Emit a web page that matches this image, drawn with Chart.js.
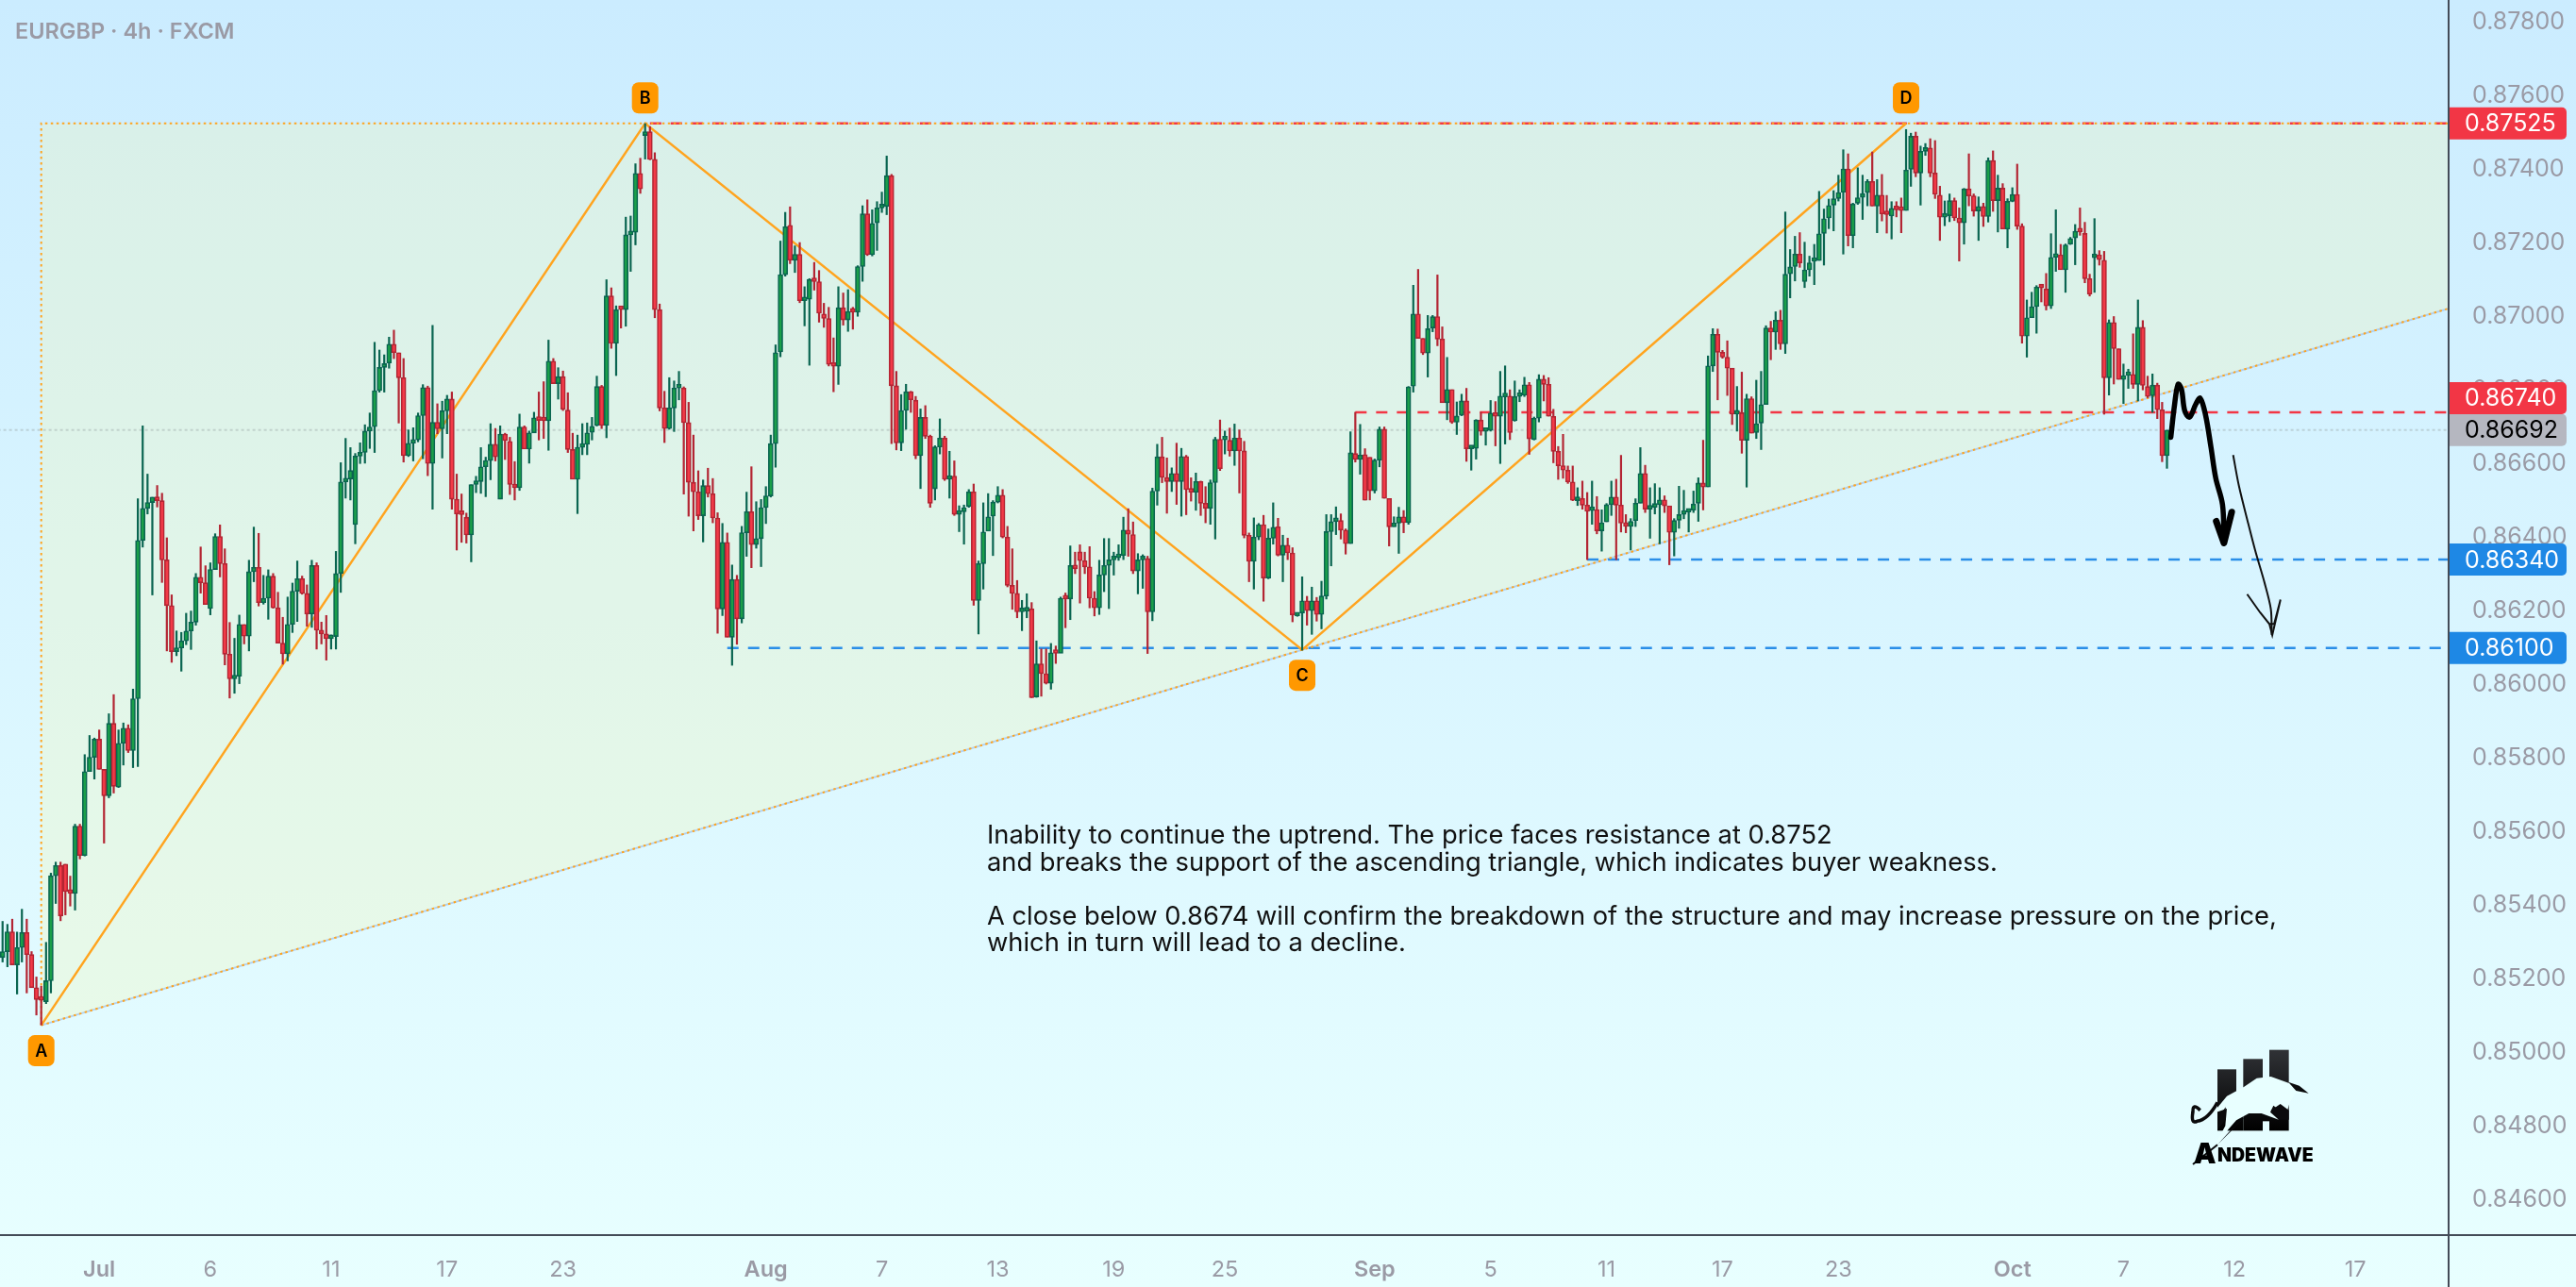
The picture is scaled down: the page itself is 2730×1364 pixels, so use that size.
<!DOCTYPE html>
<html>
<head>
<meta charset="utf-8">
<title>EURGBP 4h</title>
<script src="https://cdn.jsdelivr.net/npm/chart.js@4"></script>
<style>
html, body { margin: 0; padding: 0; }
body { width: 2730px; height: 1364px; overflow: hidden; background: linear-gradient(#cbecff, #e8ffff); }
canvas { display: block; }
</style>
</head>
<body>
<canvas id="pairChart" width="2730" height="1364"></canvas>
<script>
// candles, in 1e-5 price units, one entry per 4h bar
var opens = [
85259,85275,85329,85239,85286,85327,85267,85177,85145,85139,
85196,85481,85509,85513,85438,85433,85616,85536,85764,85803,
85852,85770,85698,85895,85722,85841,85882,85821,85962,86392,
86479,86495,86510,86500,86339,86215,86090,86100,86119,86146,
86170,86292,86277,86207,86313,86403,86329,86083,86016,86023,
86164,86132,86307,86319,86223,86235,86295,86209,86113,86084,
86164,86254,86288,86248,86192,86324,86148,86138,86125,86131,
86302,86551,86559,86435,86621,86631,86689,86701,86799,86862,
86874,86925,86902,86834,86622,86656,86665,86731,86807,86601,
86713,86695,86744,86776,86504,86464,86455,86407,86544,86552,
86592,86609,86653,86504,86681,86661,86544,86535,86700,86640,
86684,86722,86718,86717,86879,86818,86837,86746,86639,86558,
86645,86653,86686,86704,86810,86704,87056,86927,87021,87019,
87222,87229,87389,87492,87502,87427,87019,86752,86696,86752,
86806,86806,86712,86550,86524,86459,86541,86519,86453,86206,
86387,86129,86286,86179,86413,86470,86381,86397,86481,86513,
86655,86904,87114,87248,87153,87169,87043,87047,87101,87095,
87007,86995,86870,86865,87024,86991,87014,87012,87136,87279,
87168,87255,87295,87299,87383,86812,86657,86745,86796,86773,
86622,86726,86675,86532,86646,86670,86558,86567,86463,86470,
86484,86524,86229,86329,86417,86458,86496,86515,86401,86270,
86248,86198,86200,86206,85967,86057,86030,86004,86087,86085,
86235,86233,86324,86361,86337,86320,86235,86209,86298,86324,
86339,86345,86351,86420,86408,86309,86339,86343,86198,86526,
86619,86563,86552,86574,86552,86620,86530,86523,86552,86493,
86479,86549,86667,86665,86664,86635,86670,86635,86406,86335,
86401,86435,86290,86398,86429,86352,86379,86358,86187,86195,
86228,86201,86228,86191,86241,86416,86443,86446,86420,86383,
86628,86612,86625,86618,86527,86610,86694,86506,86429,86439,
86456,86440,86811,87007,86941,86901,86969,87000,86939,86766,
86802,86713,86732,86771,86641,86642,86719,86688,86691,86738,
86729,86782,86784,86717,86783,86786,86815,86666,86724,86830,
86816,86729,86634,86595,86583,86551,86500,86506,86488,86473,
86476,86418,86442,86489,86510,86488,86439,86430,86446,86493,
86574,86477,86482,86489,86502,86486,86414,86447,86463,86469,
86474,86493,86548,86537,86866,86952,86903,86890,86860,86735,
86739,86664,86777,86685,86711,86761,86969,86958,86990,86926,
87116,87136,87170,87095,87127,87150,87152,87226,87268,87303,
87321,87338,87401,87220,87308,87324,87337,87367,87300,87330,
87279,87273,87292,87290,87288,87400,87490,87390,87449,87458,
87390,87330,87270,87274,87315,87268,87255,87347,87328,87287,
87299,87272,87424,87315,87349,87238,87313,87332,87246,86947,
86997,87027,87080,87075,87029,87161,87168,87127,87197,87214,
87232,87226,87103,87160,87168,87153,86834,86984,86913,86829,
86840,86843,86816,86971,86810,86785,86814,86747,86622
];
var highs = [
85358,85350,85364,85329,85391,85364,85276,85207,85182,85301,
85489,85519,85519,85513,85481,85622,85622,85811,85863,85856,
85878,85770,85922,85974,85878,85897,85892,85989,86506,86704,
86573,86510,86542,86521,86400,86245,86147,86143,86195,86201,
86303,86375,86324,86332,86411,86435,86370,86170,86127,86190,
86164,86339,86429,86412,86298,86313,86303,86252,86184,86239,
86277,86337,86296,86272,86339,86332,86171,86189,86136,86363,
86604,86670,86645,86629,86658,86707,86739,86931,86910,86897,
86945,86964,86902,86887,86693,86699,86739,86816,86812,86977,
86764,86771,86787,86796,86573,86519,86467,86544,86567,86645,
86619,86710,86697,86704,86684,86673,86607,86736,86704,86690,
86741,86796,86824,86937,86887,86862,86853,86794,86684,86679,
86710,86712,86727,86839,86814,87101,87079,87030,87022,87271,
87274,87416,87431,87525,87517,87446,87035,86798,86835,86826,
86852,86810,86768,86679,86582,86557,86589,86561,86468,86439,
86413,86326,86298,86431,86524,86593,86498,86504,86539,86679,
86924,87206,87284,87299,87193,87202,87082,87104,87148,87126,
87037,87026,86943,87082,87065,87074,87026,87139,87302,87318,
87291,87313,87339,87437,87387,86852,86789,86817,86798,86784,
86750,86759,86679,86650,86723,86676,86635,86609,86487,86489,
86531,86546,86337,86495,86520,86501,86539,86531,86431,86370,
86284,86230,86248,86224,86120,86098,86098,86113,86106,86239,
86250,86378,86361,86381,86361,86376,86254,86339,86398,86398,
86361,86381,86456,86479,86443,86357,86354,86350,86535,86654,
86673,86617,86590,86657,86643,86624,86563,86576,86554,86539,
86557,86673,86720,86690,86698,86709,86693,86662,86413,86454,
86439,86461,86424,86495,86453,86407,86399,86373,86195,86294,
86241,86266,86238,86282,86463,86463,86484,86465,86424,86688,
86741,86708,86642,86618,86614,86701,86701,86506,86457,86483,
86474,86811,87086,87129,86941,87004,87004,87114,86973,86890,
86802,86769,86790,86806,86644,86721,86741,86695,86773,86770,
86852,86867,86802,86826,86802,86836,86822,86728,86843,86841,
86835,86749,86648,86681,86595,86595,86536,86554,86523,86554,
86512,86476,86493,86554,86559,86624,86463,86452,86506,86645,
86597,86536,86547,86536,86514,86486,86452,86540,86529,86477,
86527,86563,86665,86894,86968,86967,86909,86935,86860,86811,
86850,86790,86783,86828,86852,86976,86988,87014,87018,87285,
87183,87219,87229,87203,87165,87197,87341,87293,87320,87343,
87385,87454,87443,87309,87405,87385,87373,87448,87373,87387,
87330,87313,87313,87323,87509,87499,87502,87464,87471,87484,
87479,87355,87315,87334,87323,87296,87349,87443,87334,87326,
87309,87432,87451,87385,87362,87321,87351,87415,87253,87046,
87067,87085,87085,87118,87226,87291,87197,87198,87216,87251,
87296,87257,87116,87267,87180,87178,86992,87001,86913,86872,
86858,86954,87046,86990,86839,86845,86820,86768,86692
];
var lows = [
85246,85233,85239,85159,85246,85162,85177,85102,85075,85133,
85162,85405,85358,85374,85398,85387,85526,85534,85764,85743,
85770,85569,85692,85705,85720,85781,85815,85774,85777,86373,
86463,86243,86482,86277,86091,86060,86078,86036,86108,86095,
86161,86248,86218,86189,86313,86292,86053,85963,85976,86002,
86110,86091,86279,86213,86218,86177,86207,86113,86055,86064,
86141,86171,86245,86158,86155,86096,86110,86066,86096,86096,
86250,86506,86501,86382,86600,86601,86641,86630,86794,86794,
86859,86885,86710,86604,86619,86607,86659,86613,86567,86476,
86681,86615,86681,86476,86365,86386,86384,86333,86521,86519,
86510,86556,86607,86504,86611,86516,86501,86527,86640,86601,
86684,86664,86668,86636,86818,86775,86744,86630,86558,86464,
86624,86624,86664,86702,86695,86670,86913,86839,86968,86973,
87122,87194,87334,87427,87425,86996,86743,86657,86693,86687,
86773,86517,86457,86417,86448,86387,86509,86439,86139,86187,
86129,86052,86109,86167,86348,86317,86370,86320,86437,86509,
86590,86890,87109,87143,87119,87037,86974,86867,87071,86984,
86970,86865,86795,86815,86976,86959,86965,87000,87095,87165,
87164,87179,87282,87276,86654,86637,86635,86693,86739,86613,
86532,86668,86481,86501,86626,86554,86506,86459,86415,86381,
86481,86215,86137,86259,86417,86350,86493,86398,86265,86204,
86181,86146,86181,85964,85965,85968,86001,85987,86057,86087,
86154,86176,86301,86221,86301,86208,86186,86190,86252,86206,
86297,86337,86339,86348,86301,86246,86261,86084,86173,86487,
86548,86465,86524,86489,86457,86461,86498,86473,86459,86439,
86435,86395,86581,86626,86620,86595,86520,86398,86279,86259,
86393,86226,86287,86381,86349,86279,86339,86170,86185,86093,
86161,86136,86172,86151,86232,86322,86407,86395,86354,86383,
86604,86571,86501,86501,86520,86591,86506,86376,86429,86356,
86412,86435,86794,86941,86896,86835,86958,86920,86766,86719,
86709,86679,86730,86606,86582,86612,86677,86650,86688,86648,
86600,86653,86665,86715,86768,86782,86625,86664,86713,86770,
86729,86602,86557,86560,86546,86499,86486,86476,86339,86435,
86409,86362,86442,86459,86339,86414,86412,86365,86429,86493,
86467,86397,86463,86382,86467,86325,86349,86424,86450,86414,
86467,86443,86474,86537,86850,86773,86886,86785,86706,86688,
86628,86536,86683,86668,86638,86761,86882,86910,86910,86899,
87050,87096,87133,87078,87109,87086,87152,87139,87238,87232,
87313,87169,87191,87186,87304,87263,87300,87300,87227,87259,
87226,87210,87270,87227,87288,87353,87379,87302,87437,87379,
87320,87206,87246,87257,87260,87150,87196,87300,87272,87206,
87244,87256,87285,87229,87238,87186,87311,87236,86927,86889,
86997,86954,87039,87017,87021,87122,87127,87065,87195,87140,
87220,87091,87055,87065,87139,86734,86786,86816,86829,86763,
86804,86804,86770,86800,86779,86739,86722,86605,86587
];
var closes = [
85275,85329,85239,85286,85327,85267,85177,85145,85143,85196,
85481,85509,85372,85438,85433,85616,85536,85764,85803,85852,
85770,85698,85895,85724,85841,85882,85821,85962,86392,86479,
86495,86510,86500,86339,86215,86090,86100,86119,86146,86170,
86292,86277,86218,86313,86403,86329,86083,86016,86023,86164,
86132,86307,86319,86223,86235,86295,86209,86113,86084,86164,
86254,86288,86248,86192,86324,86148,86138,86125,86131,86302,
86551,86559,86582,86621,86629,86689,86700,86799,86862,86870,
86925,86902,86834,86622,86656,86665,86731,86807,86601,86713,
86695,86744,86776,86504,86464,86462,86407,86544,86552,86592,
86609,86653,86619,86681,86663,86544,86535,86700,86640,86684,
86725,86718,86717,86879,86818,86837,86748,86639,86558,86645,
86653,86684,86702,86810,86704,87056,86927,87019,87019,87222,
87227,87389,87347,87502,87427,87019,86752,86696,86752,86806,
86808,86712,86550,86524,86459,86541,86519,86453,86206,86387,
86129,86286,86179,86413,86470,86381,86397,86481,86513,86655,
86902,87114,87244,87153,87169,87043,87047,87101,87095,87009,
86995,86870,86865,87024,86991,87014,87012,87136,87279,87168,
87253,87295,87299,87383,86812,86657,86745,86796,86774,86622,
86726,86675,86493,86646,86670,86558,86567,86463,86468,86481,
86524,86229,86329,86415,86456,86496,86515,86401,86270,86248,
86198,86200,86204,85965,86057,86030,86004,86087,86085,86235,
86233,86324,86315,86337,86320,86235,86209,86298,86324,86339,
86345,86351,86420,86409,86309,86339,86343,86198,86526,86619,
86563,86552,86574,86552,86620,86530,86523,86552,86493,86479,
86549,86667,86587,86667,86635,86670,86635,86406,86335,86401,
86435,86290,86398,86428,86352,86379,86358,86190,86191,86228,
86201,86228,86191,86241,86416,86443,86448,86420,86383,86630,
86612,86624,86501,86527,86610,86694,86506,86429,86439,86456,
86440,86809,87007,86941,86901,86967,87000,86939,86766,86802,
86713,86730,86771,86641,86642,86719,86688,86689,86738,86729,
86784,86784,86685,86783,86786,86815,86668,86724,86830,86816,
86729,86634,86595,86583,86551,86501,86507,86488,86471,86476,
86418,86440,86489,86510,86488,86439,86430,86444,86493,86574,
86477,86481,86487,86502,86486,86414,86446,86462,86469,86474,
86491,86548,86537,86866,86952,86903,86890,86860,86735,86741,
86664,86777,86683,86709,86761,86969,86958,86990,86926,87115,
87135,87170,87146,87127,87146,87153,87225,87266,87302,87320,
87337,87401,87220,87306,87323,87334,87367,87300,87330,87279,
87277,87294,87290,87288,87398,87490,87390,87449,87455,87390,
87332,87270,87274,87315,87268,87255,87347,87328,87287,87299,
87272,87424,87315,87349,87238,87313,87332,87246,86947,86997,
87027,87080,87078,87029,87161,87168,87127,87195,87212,87232,
87230,87103,87061,87164,87155,86834,86984,86913,86829,86840,
86845,86816,86971,86813,86783,86814,86747,86622,86692
];

// axis labels, placed by bar number
var tickBars = [20,43,68,92,116,158,182,206,230,253,284,308,332,356,380,416,439,462,487];
var tickLabels = ["Jul","6","11","17","23","Aug","7","13","19","25","Sep","5","11","17","23","Oct","7","12","17"];
var monthLabels = ["Jul","Aug","Sep","Oct"];
var priceTicks = [0.846,0.848,0.85,0.852,0.854,0.856,0.858,0.86,0.862,0.864,0.866,0.868,0.87,0.872,0.874,0.876,0.878];

// drawing tools on top of the candles: bar number / price pairs
var swingBars = [8,133,269,394];
var swingPrices = [0.85075,0.87525,0.86095,0.87525];
var swingNames = ["A","B","C","D"];
var swingBelow = [true,false,true,false];

var triangleBars = [8,8,506.3,506.3];
var trianglePrices = [0.85075,0.87525,0.87525,0.87022];
var supportBars = [8,506.3];
var supportPrices = [0.85075,0.87022];

var levelPrices = [0.87525,0.8674,0.8634,0.861];
var levelStarts = [134,280,328,150];
var levelColors = ["#f23645","#f23645","#2a8ee8","#2a8ee8"];
var lastPrice = 0.86692;

var thickArrowBars = [448.8,449.5,450.3,451,451.7,452.7,454,454.9,456,457.1,458.1,459.5,459.8];
var thickArrowPrices = [0.86672,0.86753,0.86816,0.86803,0.86743,0.86727,0.86763,0.86778,0.86732,0.86646,0.86561,0.86489,0.86394];
var thickHeadBars = [458.2,459.8,461.4];
var thickHeadPrices = [0.86444,0.86385,0.86469];
var thinArrowBars = [461.7,462.9,464.8,466.3,468.2,469.5,469.7];
var thinArrowPrices = [0.86624,0.8654,0.86439,0.86363,0.86277,0.86206,0.86135];
var thinHeadBars = [464.6,467.3,469.2,469.8,471.5,470.2,469.2];
var thinHeadPrices = [0.86246,0.86196,0.86165,0.86135,0.86231,0.86166,0.86165];

var noteLines = [
    "Inability to continue the uptrend. The price faces resistance at 0.8752",
    "and breaks the support of the ascending triangle, which indicates buyer weakness.",
    "",
    "A close below 0.8674 will confirm the breakdown of the structure and may increase pressure on the price,",
    "which in turn will lead to a decline."
];
var titleText = "EURGBP \u00b7 4h \u00b7 FXCM";

var FONT = "Inter, sans-serif";
var ORANGE = "#ffa41f";
var UP_FILL = "#1a9f49", UP_EDGE = "#0a6551";
var DOWN_FILL = "#f23a47", DOWN_EDGE = "#b32533";

function price(v) { return v / 100000; }

function zipPoints(xs, ys) {
    var pts = [];
    for (var i = 0; i < xs.length; ++i) pts.push({x: xs[i], y: ys[i]});
    return pts;
}

function lineSet(xs, ys, color, width, dash, order, extra) {
    var ds = {
        type: "line",
        data: zipPoints(xs, ys),
        borderColor: color,
        borderWidth: width,
        borderDash: dash || [],
        pointRadius: 0,
        fill: false,
        tension: 0,
        order: order
    };
    for (var k in extra) ds[k] = extra[k];
    return ds;
}

var wickData = [], bodyData = [], wickColors = [], bodyFills = [], bodyEdges = [];
for (var i = 0; i < closes.length; ++i) {
    var up = closes[i] >= opens[i];
    wickData.push({x: i, y: [price(lows[i]), price(highs[i])]});
    bodyData.push({x: i, y: [price(opens[i]), price(closes[i])]});
    wickColors.push(up ? UP_EDGE : DOWN_EDGE);
    bodyFills.push(up ? UP_FILL : DOWN_FILL);
    bodyEdges.push(up ? UP_EDGE : DOWN_EDGE);
}

var datasets = [];
// triangle area first so everything sits above it
datasets.push(lineSet(triangleBars, trianglePrices, "rgba(0,0,0,0)", 0, null, 20, {fill: "shape", backgroundColor: "rgba(253,246,167,0.25)"}));
datasets.push(lineSet([-1, 507], [lastPrice, lastPrice], "rgba(150,160,160,0.4)", 2, [3, 3], 19));
datasets.push(lineSet(supportBars, supportPrices, "rgba(165,200,240,0.8)", 2, null, 18));
for (var n = 0; n < levelPrices.length; ++n) {
    datasets.push(lineSet([levelStarts[n], 507], [levelPrices[n], levelPrices[n]], levelColors[n], 2.5, [12, 10], 16));
}
datasets.push(lineSet(supportBars, supportPrices, ORANGE, 2, [2.5, 3.5], 15));
datasets.push(lineSet(triangleBars.slice(0, 3), trianglePrices.slice(0, 3), ORANGE, 2, [2.5, 3.5], 15));
datasets.push(lineSet(swingBars, swingPrices, ORANGE, 2.5, null, 10));
datasets.push({type: "bar", data: wickData, backgroundColor: wickColors, borderWidth: 0, grouped: false, maxBarThickness: 2.2, minBarLength: 1, order: 5});
datasets.push({type: "bar", data: bodyData, backgroundColor: bodyFills, borderColor: bodyEdges, borderWidth: 1.6, borderSkipped: false, grouped: false, barPercentage: 1, categoryPercentage: 1, maxBarThickness: 5, minBarLength: 4, order: 4});
datasets.push(lineSet(thickArrowBars, thickArrowPrices, "#000", 5.5, null, 2, {tension: 0.35, borderCapStyle: "round"}));
datasets.push(lineSet(thickHeadBars, thickHeadPrices, "#000", 7, null, 2, {borderCapStyle: "round", borderJoinStyle: "round"}));
datasets.push(lineSet(thinArrowBars, thinArrowPrices, "#111", 2, null, 2, {tension: 0.3}));
datasets.push(lineSet(thinHeadBars, thinHeadPrices, "#111", 2, null, 2));

function priceTag(ctx, chart, value, offset, fill, ink) {
    var y = chart.scales.y.getPixelForValue(value) + offset;
    var x = chart.chartArea.right + 1;
    ctx.fillStyle = fill;
    ctx.beginPath();
    ctx.roundRect(x, y - 17, 124, 34, [0, 5, 5, 0]);
    ctx.fill();
    ctx.fillStyle = ink;
    ctx.font = "25px " + FONT;
    ctx.textAlign = "left";
    ctx.textBaseline = "middle";
    ctx.fillText(value.toFixed(5), x + 16, y + 1);
}

function drawLogo(ctx) {
    // small brand mark, bottom right of the plot
    var ox = 2250, oy = 1080, u = 1 / 3;
    function P(x, y) { return [ox + x * u, oy + y * u]; }
    function poly(points, color) {
        ctx.fillStyle = color;
        ctx.beginPath();
        points.forEach(function (p, i) {
            var q = P(p[0], p[1]);
            if (i == 0) ctx.moveTo(q[0], q[1]); else ctx.lineTo(q[0], q[1]);
        });
        ctx.closePath();
        ctx.fill();
    }
    var grad = ctx.createLinearGradient(0, oy + 98 * u, 0, oy + 355 * u);
    grad.addColorStop(0, "#303236");
    grad.addColorStop(1, "#000");
    ctx.fillStyle = grad;
    ctx.fillRect(ox + 300 * u, oy + 160 * u, 60 * u, 195 * u);
    ctx.fillRect(ox + 382 * u, oy + 127 * u, 62 * u, 228 * u);
    ctx.fillRect(ox + 465 * u, oy + 98 * u, 62 * u, 257 * u);
    ctx.fillRect(ox + 360 * u, oy + 300 * u, 22 * u, 55 * u);
    ctx.fillRect(ox + 440 * u, oy + 300 * u, 30 * u, 25 * u);
    // bull cut out of the bars
    poly([[285,300],[330,245],[385,215],[425,188],[470,183],[530,205],[560,230],[590,236],[548,236],[530,265],[522,292],[500,292],[478,275],[468,296],[495,320],[440,300],[400,300],[360,322],[335,350],[300,400],[295,395],[325,340],[330,285]], "#e8ffff");
    poly([[525,200],[560,212],[590,236],[550,228]], "#0a0a0c");
    poly([[300,352],[302,315],[326,280],[326,320]], "#0a0a0c");
    poly([[470,290],[500,270],[527,290],[527,320],[495,320]], "#0a0a0c");
    poly([[345,350],[400,300],[300,400]], "#0a0a0c");
    ctx.strokeStyle = "#0a0a0c";
    ctx.lineWidth = 3.5;
    ctx.beginPath();
    var a = P(300, 265), b = P(270, 320), c = P(215, 335), d = P(222, 295), e = P(245, 290);
    ctx.moveTo(a[0], a[1]);
    ctx.quadraticCurveTo(b[0], b[1], P(235, 325)[0], P(235, 325)[1]);
    ctx.quadraticCurveTo(c[0], c[1], d[0], d[1]);
    ctx.quadraticCurveTo(e[0] - 8, e[1] - 8, e[0], e[1]);
    ctx.stroke();
    ctx.lineWidth = 2;
    ctx.beginPath();
    var s0 = P(300, 400), s1 = P(222, 462);
    ctx.moveTo(s0[0], s0[1]);
    ctx.lineTo(s1[0], s1[1]);
    ctx.stroke();
    ctx.fillStyle = "#000";
    ctx.textAlign = "left";
    ctx.textBaseline = "alphabetic";
    ctx.font = "900 30px " + FONT;
    ctx.fillText("A", ox + 224 * u, oy + 460 * u);
    ctx.font = "900 19.5px " + FONT;
    ctx.fillText("NDEWAVE", ox + 300 * u, oy + 453 * u);
}

var overlayPlugin = {
    id: "overlay",
    afterDraw: function (chart) {
        var ctx = chart.ctx, area = chart.chartArea, xs = chart.scales.x, ys = chart.scales.y;
        ctx.save();

        // frame lines between plot and scales
        ctx.strokeStyle = "#434b57";
        ctx.lineWidth = 2;
        ctx.beginPath();
        ctx.moveTo(0, area.bottom);
        ctx.lineTo(chart.width, area.bottom);
        ctx.moveTo(area.right, 0);
        ctx.lineTo(area.right, chart.height);
        ctx.stroke();

        // pivot badges
        ctx.textAlign = "center";
        ctx.textBaseline = "middle";
        for (var i = 0; i < swingBars.length; ++i) {
            var px = xs.getPixelForValue(swingBars[i]);
            var py = ys.getPixelForValue(swingPrices[i]) + (swingBelow[i] ? 27 : -27);
            ctx.fillStyle = "#ff9800";
            ctx.beginPath();
            ctx.roundRect(px - 14, py - 16.5, 28, 33, 7);
            ctx.fill();
            ctx.fillStyle = "#000";
            ctx.font = "600 18px " + FONT;
            ctx.fillText(swingNames[i], px, py + 1);
        }

        // price tags on the scale
        priceTag(ctx, chart, 0.87525, 0, "#f23645", "#fff");
        priceTag(ctx, chart, 0.86692, 0, "#b5b7c0", "#000");
        priceTag(ctx, chart, 0.8674, -15, "#f23645", "#fff");
        priceTag(ctx, chart, 0.8634, 0, "#1e88e5", "#fff");
        priceTag(ctx, chart, 0.861, 0, "#1e88e5", "#fff");

        // heading
        ctx.fillStyle = "#9a9aa5";
        ctx.textAlign = "left";
        ctx.textBaseline = "alphabetic";
        ctx.font = "600 23.5px " + FONT;
        ctx.fillText(titleText, 16, 41);

        // commentary block
        ctx.fillStyle = "#111";
        ctx.font = "27.3px " + FONT;
        var rowY = [894, 923, 951, 980, 1008];
        noteLines.forEach(function (line, r) { ctx.fillText(line, 1046, rowY[r]); });

        drawLogo(ctx);
        ctx.restore();
    }
};

document.addEventListener("DOMContentLoaded", function () {
    new Chart(document.getElementById("pairChart"), {
        type: "bar",
        data: {datasets: datasets},
        plugins: [overlayPlugin],
        options: {
            responsive: false,
            animation: false,
            layout: {padding: 0},
            plugins: {legend: {display: false}, tooltip: {enabled: false}},
            scales: {
                x: {
                    type: "linear",
                    offset: false,
                    min: -0.535,
                    max: 506.3,
                    grid: {display: false},
                    border: {display: false},
                    afterBuildTicks: function (axis) {
                        axis.ticks = tickBars.map(function (b) { return {value: b}; });
                    },
                    afterFit: function (axis) {
                        axis.height = 55;
                        axis.paddingLeft = 0;
                        axis.paddingRight = 0;
                    },
                    ticks: {
                        autoSkip: false,
                        maxRotation: 0,
                        padding: 15,
                        color: "#9a9aa5",
                        font: function (c) {
                            var bold = c.tick && monthLabels.indexOf(c.tick.label) >= 0;
                            return {family: FONT, size: 23.5, weight: bold ? "600" : "400"};
                        },
                        callback: function (value) {
                            return tickLabels[tickBars.indexOf(value)];
                        }
                    }
                },
                y: {
                    position: "right",
                    min: 0.84505,
                    max: 0.8786,
                    grid: {display: false},
                    border: {display: false},
                    afterBuildTicks: function (axis) {
                        axis.ticks = priceTicks.map(function (p) { return {value: p}; });
                    },
                    afterFit: function (axis) {
                        axis.width = 135;
                        axis.paddingTop = 0;
                        axis.paddingBottom = 0;
                    },
                    ticks: {
                        autoSkip: false,
                        padding: 17,
                        color: "#9a9aa5",
                        font: {family: FONT, size: 25},
                        callback: function (value) { return value.toFixed(5); }
                    }
                }
            }
        }
    });
});
</script>
</body>
</html>
